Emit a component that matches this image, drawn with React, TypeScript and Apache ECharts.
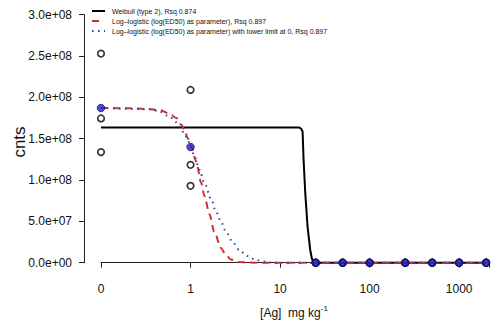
import React, { useEffect, useRef } from "react";
import * as echarts from "echarts";

// ---- data ----
// position used on the log axis for dose 0 (as drc does)
const ZERO_POS = 0.1;

const rawDose = [0, 0, 0, 1, 1, 1, 25, 25, 25, 50, 50, 50, 100, 100, 100, 250, 250, 250, 500, 500, 500, 1000, 1000, 1000, 2000, 2000, 2000];
const rawCnts = [2.53e8, 1.745e8, 1.338e8, 2.09e8, 1.184e8, 0.93e8, 0, 0, 0, 0, 0, 0, 0, 0, 0, 0, 0, 0, 0, 0, 0, 0, 0, 0, 0, 0, 0];

const meanDose = [0, 1, 25, 50, 100, 250, 500, 1000, 2000];
const meanCnts = [1.871e8, 1.40e8, 0, 0, 0, 0, 0, 0, 0];

const weibullDose = [0, 16.4, 17.17, 17.84, 18.3, 19.11, 20.27, 21.71, 22.62, 23.62, 2000];
const weibullCnts = [1.636e8, 1.636e8, 1.62e8, 1.588e8, 1.245e8, 0.841e8, 0.436e8, 0.154e8, 0.053e8, 0, 0];

const llDose = [0, 0.211, 0.323, 0.4536, 0.585, 0.694, 0.789, 0.858, 0.926, 1.018, 1.157, 1.314, 1.429, 1.623, 1.845, 2.188, 2.441, 2.823, 3.488, 4.5, 10, 2000];
const llCnts = [1.871e8, 1.869e8, 1.859e8, 1.845e8, 1.802e8, 1.75e8, 1.669e8, 1.608e8, 1.512e8, 1.406e8, 1.224e8, 0.966e8, 0.808e8, 0.59e8, 0.372e8, 0.178e8, 0.105e8, 0.039e8, 0.0085e8, 0.001e8, 0, 0];

const ll0Dose = [0, 0.3515, 0.4536, 0.585, 0.694, 0.7555, 0.858, 0.933, 1.0, 1.107, 1.258, 1.429, 1.695, 1.926, 2.188, 2.485, 2.94, 3.488, 4.311, 5.34, 7.5, 10.18, 2000];
const ll0Cnts = [1.871e8, 1.857e8, 1.827e8, 1.766e8, 1.699e8, 1.645e8, 1.56e8, 1.481e8, 1.402e8, 1.285e8, 1.124e8, 0.966e8, 0.772e8, 0.618e8, 0.497e8, 0.376e8, 0.255e8, 0.154e8, 0.081e8, 0.033e8, 0.003e8, 0, 0];

const legendLabels = [
  "Weibull (type 2), Rsq 0.874",
  "Log\u2013logistic (log(ED50) as parameter), Rsq 0.897",
  "Log\u2013logistic (log(ED50) as parameter) with lower limit at 0, Rsq 0.897",
];
const yTitle = "cnts";
const xTitle = "[Ag]  mg kg";
const xTitleSup = "-1";

const FONT = '"Liberation Sans", Arial, Helvetica, sans-serif';
const INK = "#111";
const RED = "#C9303A";
const DOTBLUE = "#3A47A6";
const PTBLUE = "#2222C0";

const pos = (d: number) => (d === 0 ? ZERO_POS : d);
const pairs = (xs: number[], ys: number[]) => xs.map((x, i) => [pos(x), ys[i]]);

const fmtY = (v: number) => {
  if (v === 0) return "0.0e+00";
  const e = Math.floor(Math.log10(v) + 1e-9);
  const m = v / Math.pow(10, e);
  return m.toFixed(1) + "e+" + String(e).padStart(2, "0");
};
const fmtX = (v: number) => {
  const l = Math.log10(v);
  if (Math.abs(l - Math.round(l)) > 1e-6) return "";
  if (v < 0.5) return "0";
  return String(Math.round(v));
};

export default function App() {
  const ref = useRef<HTMLDivElement>(null);
  useEffect(() => {
    if (!ref.current) return;
    const chart = echarts.init(ref.current, undefined, { renderer: "svg" });
    const legendX1 = 92;
    const legendX2 = 105;
    const rows = [11, 21, 31];
    chart.setOption({
      animation: false,
      grid: { left: 101, right: 0, top: 14.7, bottom: 68.3 },
      xAxis: {
        type: "log",
        logBase: 10,
        min: 0.1,
        max: 2154,
        offset: 11,
        axisLine: { show: true, lineStyle: { color: "#222", width: 1 } },
        axisTick: { show: true, length: 5, lineStyle: { color: "#222" } },
        axisLabel: { fontSize: 12, color: INK, margin: 9, fontFamily: FONT, formatter: fmtX },
        splitLine: { show: false },
        minorTick: { show: false },
      },
      yAxis: {
        type: "value",
        min: 0,
        max: 3e8,
        interval: 5e7,
        offset: 17,
        axisLine: { show: true, lineStyle: { color: "#222", width: 1 } },
        axisTick: { show: true, length: 5, lineStyle: { color: "#222" } },
        axisLabel: { fontSize: 12, color: INK, margin: 12, fontFamily: FONT, formatter: fmtY },
        splitLine: { show: false },
      },
      series: [
        {
          type: "line",
          data: pairs(weibullDose, weibullCnts),
          showSymbol: false,
          clip: false,
          lineStyle: { color: "#000", width: 2 },
          z: 2,
        },
        {
          type: "line",
          data: pairs(llDose, llCnts),
          showSymbol: false,
          clip: false,
          smooth: 0.3,
          smoothMonotone: "x",
          lineStyle: { color: RED, width: 2, type: [7, 5] },
          z: 3,
        },
        {
          type: "line",
          data: pairs(ll0Dose, ll0Cnts),
          showSymbol: false,
          clip: false,
          smooth: 0.3,
          smoothMonotone: "x",
          lineStyle: { color: DOTBLUE, width: 2, type: [1.6, 4.4] },
          z: 3,
        },
        {
          type: "scatter",
          data: pairs(rawDose, rawCnts),
          symbol: "circle",
          symbolSize: 6.5,
          clip: false,
          itemStyle: { color: "rgba(0,0,0,0)", borderColor: "#000", borderWidth: 1.7 },
          z: 4,
        },
        {
          type: "scatter",
          data: pairs(meanDose, meanCnts),
          symbol: "circle",
          symbolSize: 7.5,
          clip: false,
          itemStyle: { color: PTBLUE, borderColor: "#161670", borderWidth: 1 },
          z: 5,
        },
      ],
      graphic: [
        {
          type: "line",
          shape: { x1: legendX1, y1: rows[0], x2: legendX2, y2: rows[0] },
          style: { stroke: "#000", lineWidth: 2 },
        },
        {
          type: "line",
          shape: { x1: legendX1, y1: rows[1], x2: legendX2, y2: rows[1] },
          style: { stroke: RED, lineWidth: 2, lineDash: [7, 6] },
        },
        {
          type: "line",
          shape: { x1: legendX1, y1: rows[2], x2: legendX2, y2: rows[2] },
          style: { stroke: DOTBLUE, lineWidth: 2, lineDash: [1.6, 4.4] },
        },
        ...legendLabels.map((t, i) => ({
          type: "text",
          x: 112,
          y: rows[i],
          style: { text: t, fontSize: 7, fill: INK, fontFamily: FONT, verticalAlign: "middle", align: "left" },
        })),
        {
          type: "text",
          x: 19,
          y: 142,
          rotation: Math.PI / 2,
          style: { text: yTitle, fontSize: 17, fill: INK, fontFamily: FONT, align: "center", verticalAlign: "middle" },
        },
        {
          type: "text",
          x: 294,
          y: 313,
          style: {
            text: "{n|" + xTitle + "}{sup|" + xTitleSup + "}",
            align: "center",
            verticalAlign: "middle",
            fill: INK,
            fontFamily: FONT,
            rich: {
              n: { fontSize: 12, lineHeight: 18, fontFamily: FONT, fill: INK },
              sup: { fontSize: 8, lineHeight: 8, verticalAlign: "top", fontFamily: FONT, fill: INK },
            },
          },
        },
      ],
    });
    return () => chart.dispose();
  }, []);
  return <div ref={ref} style={{ position: "fixed", left: 0, top: 0, width: 492, height: 331, background: "#fff" }} />;
}
